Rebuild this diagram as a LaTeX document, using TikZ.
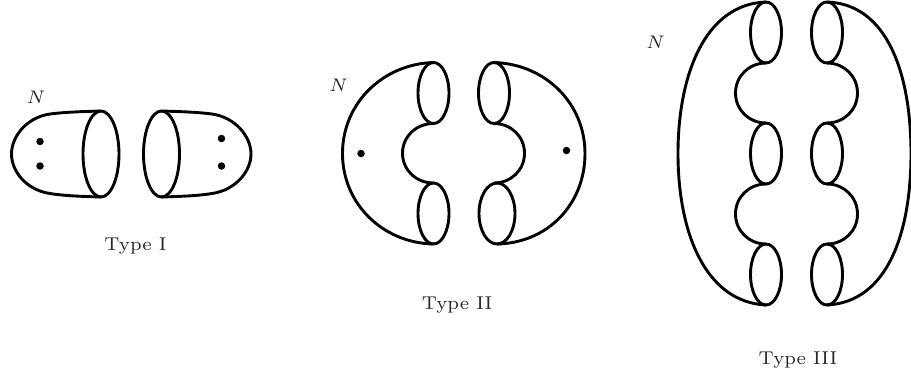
\documentclass[tikz,border=0pt]{standalone}
\tikzset{
  curve/.style={line width=2.9pt,line join=round},
  rim/.style={curve},
  spot/.style={circle,fill=black,inner sep=0pt,minimum size=7.5pt},
  lab/.style={font=\scriptsize,scale=2.65,text=black!85,inner sep=0pt},
  mlab/.style={font=\scriptsize,scale=2.6,text=black!85,inner sep=0pt},
}
\newcommand{\bulge}[4]{% x, y-top, bulge x, y-bottom
  \draw[curve] (#1,#2) .. controls ({#1+0.55*(#3-#1)},#2) and (#3,{(#2+#4)/2-17}) .. (#3,{(#2+#4)/2})
    .. controls (#3,{(#2+#4)/2+17}) and ({#1+0.55*(#3-#1)},#4) .. (#1,#4);}
\begin{document}
\begin{tikzpicture}[x=1pt,y=-1pt]
\useasboundingbox (0,0) rectangle (911,376);
% Type I
\draw[rim] (101,154) ellipse [x radius=18,y radius=43];
\draw[rim] (161.5,154) ellipse [x radius=18,y radius=43];
\draw[curve] (101,111) .. controls (85,111.5) and (65,112) .. (50,114) .. controls (26,117.5) and (11.5,137) .. (11.5,154)
  .. controls (11.5,171) and (26,190) .. (50,193.5) .. controls (65,196) and (85,196.5) .. (101,197);
\draw[curve] (161.5,111) .. controls (177,111.5) and (197,112) .. (212,114) .. controls (236,117.5) and (251,137) .. (251,154)
  .. controls (251,171) and (236,190) .. (212,193.5) .. controls (197,196) and (177,196.5) .. (161.5,197);
\node[spot] (a1) at (40,141.5) {};
\node[spot] (a2) at (40,166) {};
\node[spot] (a3) at (221.5,138.5) {};
\node[spot] (a4) at (221.5,166) {};
\node[mlab] (n1) at (36,97) {$N$};
\node[lab] (t1) at (135.5,246) {Type I};
% Type II
\draw[rim] (433.5,93) ellipse [x radius=15.5,y radius=30.5];
\draw[rim] (433.5,213.5) ellipse [x radius=15.5,y radius=30.5];
\draw[rim] (494,93) ellipse [x radius=15.5,y radius=30.5];
\draw[rim] (497,213.5) ellipse [x radius=18,y radius=30.5];
\draw[curve] (433.5,62.5) .. controls (383,64) and (342.5,103) .. (342.5,153.5) .. controls (342.5,204) and (383,243) .. (433.5,244);
\draw[curve] (494,62.5) .. controls (545,64) and (585,103) .. (585,153.5) .. controls (585,204) and (548,243) .. (497,244);
\bulge{433.5}{123.5}{402.5}{183}
\bulge{494}{123.5}{524.5}{183}
\node[spot] (b1) at (361,153.5) {};
\node[spot] (b2) at (566.5,150.5) {};
\node[mlab] (n2) at (338.5,85) {$N$};
\node[lab] (t2) at (457,305) {Type II};
% Type III
\foreach \y in {32.5,153.5,274.5} {
  \draw[rim] (766,\y) ellipse [x radius=15.5,y radius=30.5];
  \draw[rim] (827,\y) ellipse [x radius=15.5,y radius=30.5];
}
\draw[curve] (766,2) .. controls (705,4) and (678,75) .. (678,153.5) .. controls (678,232) and (705,302) .. (766,305);
\draw[curve] (827,2) .. controls (888,4) and (911,75) .. (911,153.5) .. controls (911,232) and (888,302) .. (827,305);
\bulge{766}{63}{735.5}{123}
\bulge{766}{184}{735.5}{244}
\bulge{827}{63}{857.5}{123}
\bulge{827}{184}{857.5}{244}
\node[mlab] (n3) at (655.5,42) {$N$};
\node[lab] (t3) at (798,360) {Type III};
\end{tikzpicture}
\end{document}
